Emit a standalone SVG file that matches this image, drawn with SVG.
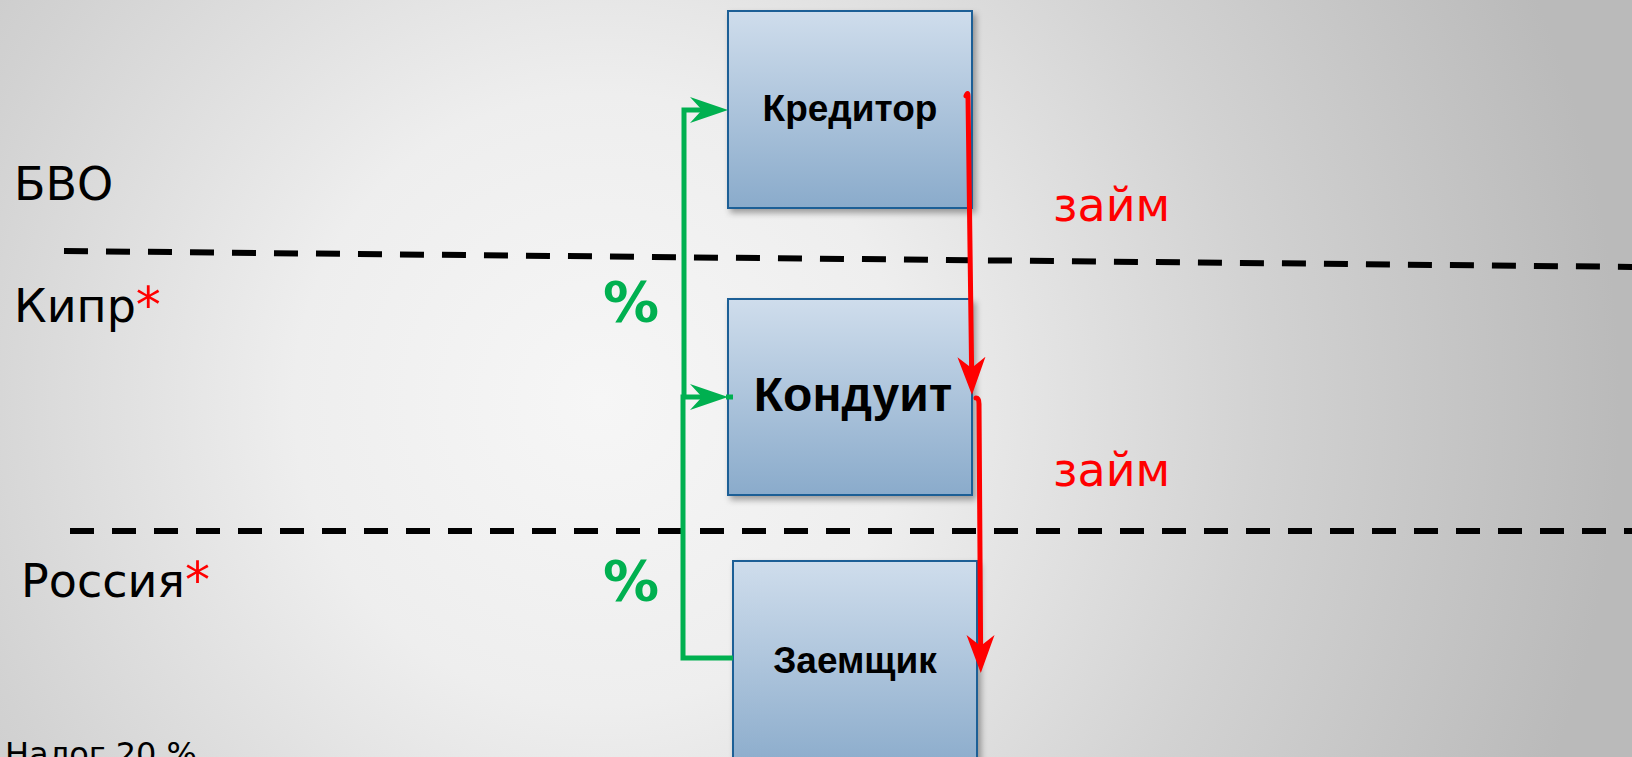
<svg xmlns="http://www.w3.org/2000/svg" width="1632" height="757" viewBox="0 0 1632 757">
  <defs>
    <radialGradient id="bg" gradientUnits="userSpaceOnUse" cx="600" cy="400" r="1020">
      <stop offset="0" stop-color="#f6f6f6"/>
      <stop offset="0.3" stop-color="#eeeeee"/>
      <stop offset="0.65" stop-color="#d2d2d2"/>
      <stop offset="1" stop-color="#bababa"/>
    </radialGradient>
    <linearGradient id="boxFill" x1="0" y1="0" x2="0" y2="1">
      <stop offset="0" stop-color="#cfddec"/>
      <stop offset="1" stop-color="#8aabcb"/>
    </linearGradient>
    <filter id="shadow" x="-10%" y="-10%" width="130%" height="130%">
      <feDropShadow dx="3" dy="4" stdDeviation="3" flood-color="#000" flood-opacity="0.35"/>
    </filter>
    <marker id="arrowRed" markerUnits="userSpaceOnUse" markerWidth="60" markerHeight="40" viewBox="-15 -20 60 40" refX="0" refY="0" orient="auto" overflow="visible">
      <path d="M27,0 L-11,-14 L0,0 L-11,14 Z" fill="#ff0000"/>
    </marker>
    <marker id="arrowGreen" markerUnits="userSpaceOnUse" markerWidth="60" markerHeight="40" viewBox="-15 -20 60 40" refX="0" refY="0" orient="auto" overflow="visible">
      <path d="M26,0 L-12,-13 L0,0 L-12,13 Z" fill="#00b050"/>
    </marker>
    <style>
      .box { fill: url(#boxFill); stroke: #1f5f96; stroke-width: 2; filter: url(#shadow); }
      .boxText { font-family: "Liberation Sans", Arial, sans-serif; font-weight: bold; fill: #000; text-anchor: middle; }
      .label { font-family: "DejaVu Sans", Verdana, sans-serif; font-size: 46px; fill: #000; }
      .star { fill: #ff0000; font-size: 50px; }
      .loan { font-family: "DejaVu Sans", Verdana, sans-serif; font-size: 46px; fill: #ff0000; }
      .pct { font-family: "DejaVu Sans", Verdana, sans-serif; font-weight: bold; font-size: 56px; fill: #00b050; }
      .border { stroke: #000; stroke-width: 6; stroke-dasharray: 24 18; fill: none; }
      .green { stroke: #00b050; stroke-width: 5; fill: none; }
      .red { stroke: #ff0000; stroke-width: 5; fill: none; stroke-linecap: round; }
    </style>
  </defs>

  <!-- background -->
  <rect x="0" y="0" width="1632" height="757" fill="url(#bg)"/>

  <!-- jurisdiction borders -->
  <g id="borders">
    <line class="border" x1="64" y1="251" x2="1640" y2="267"/>
    <line class="border" x1="70" y1="531" x2="1640" y2="531"/>
  </g>

  <!-- jurisdiction labels -->
  <g id="labels">
    <text class="label" x="14" y="200">БВО</text>
    <text class="label" x="14" y="322">Кипр<tspan class="star">*</tspan></text>
    <text class="label" x="21" y="597">Россия<tspan class="star">*</tspan></text>
    <text class="label" x="5" y="765" style="font-size:32px">Налог 20 %</text>
  </g>

  <!-- nodes -->
  <g id="node-creditor">
    <rect class="box" x="728" y="11" width="244" height="197"/>
    <text class="boxText" x="850" y="121" font-size="37">Кредитор</text>
  </g>
  <g id="node-conduit">
    <rect class="box" x="728" y="299" width="244" height="196"/>
    <text class="boxText" x="853" y="411" font-size="48">Кондуит</text>
  </g>
  <g id="node-borrower">
    <rect class="box" x="733" y="561" width="244" height="210"/>
    <text class="boxText" x="855" y="673" font-size="37">Заемщик</text>
  </g>

  <!-- connectors -->
  <g id="connectors">
    <!-- interest payments -->
    <path class="green" d="M733,658 H683 V397 H702" marker-end="url(#arrowGreen)"/>
    <line class="green" x1="726" y1="397" x2="733" y2="397"/>
    <path class="green" d="M684,397 V110 H702" marker-end="url(#arrowGreen)"/>
    <!-- loans -->
    <path class="red" d="M966,96 Q968,91 968,96 L971.6,368" marker-end="url(#arrowRed)"/>
    <path class="red" d="M976,398 Q979,398 979,404 L980.6,646" marker-end="url(#arrowRed)"/>
  </g>

  <!-- connector labels -->
  <g id="connector-labels">
    <text class="loan" x="1053" y="221">займ</text>
    <text class="loan" x="1053" y="486">займ</text>
    <text class="pct" x="603" y="321">%</text>
    <text class="pct" x="603" y="600">%</text>
  </g>
</svg>
